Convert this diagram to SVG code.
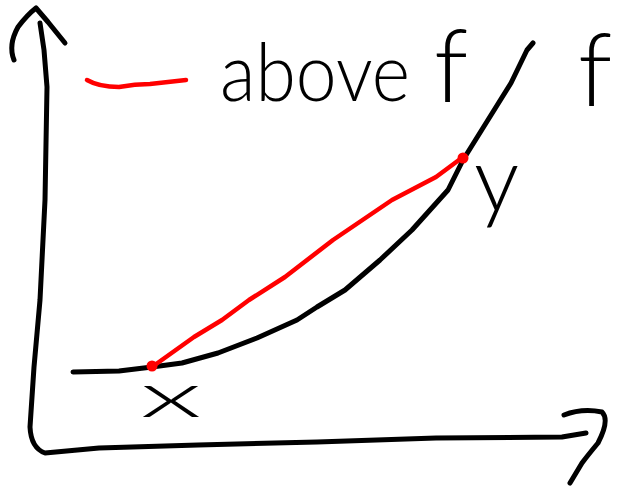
<svg xmlns="http://www.w3.org/2000/svg" width="621" height="486" viewBox="0 0 621 486">
<style>
.ink{fill:none;stroke:#000;stroke-width:5;stroke-linecap:round;stroke-linejoin:round}
.red{fill:none;stroke:#f00;stroke-width:4.5;stroke-linecap:round;stroke-linejoin:round}
.dot{fill:#f00}
.lbl{font-family:"Lato","DejaVu Sans",sans-serif;font-weight:300;fill:#000}
</style>
<rect width="621" height="486" fill="#fff"/>
<g id="axes">
<path class="ink" d="M40,23 L44,50 L47,87 L45,200 L40,300 L34,367 L30,427 Q31,448 45,453 L99,448 L198,445 L317,442 L436,438 L562,437 L586,433"/>
<path class="ink" d="M14,60 Q8,45 18,27 Q27,15 36,8 L48,22 L65,43"/>
<path class="ink" d="M564,415 Q582,408 602,412 Q610,420 598,443 Q588,455 582,463 L570,483"/>
</g>
<g id="curve-f">
<path class="ink" d="M73,372 L119,371 L152,367 L182,363 L218,353 L257,338 L297,320 L317,307 L345,290 L380,260 L412,230 L448,190 L463,160 L511,83 L527,50 L533,43"/>
</g>
<g id="chord">
<path class="red" d="M152,367 L194,337 L222,320 L249,300 L285,277 L333,240 L392,200 L436,177 L463,157"/>
<circle class="dot" cx="152" cy="366" r="5.5"/>
<circle class="dot" cx="463" cy="158" r="5.5"/>
</g>
<g id="legend">
<path class="red" d="M87,80 Q99,87 119,87 Q135,84 150,84 L186,80"/>
<text class="lbl" y="101" font-size="80"><tspan x="220" textLength="190" lengthAdjust="spacingAndGlyphs">above</tspan> <tspan x="434" font-size="100" dy="1">f</tspan></text>
</g>
<g id="labels">
<text class="lbl" x="578" y="106" font-size="100">f</text>
<text class="lbl" x="140" y="417" font-size="62" textLength="62" lengthAdjust="spacingAndGlyphs">x</text>
<text class="lbl" x="474" y="211" font-size="90">y</text>
</g>
</svg>
